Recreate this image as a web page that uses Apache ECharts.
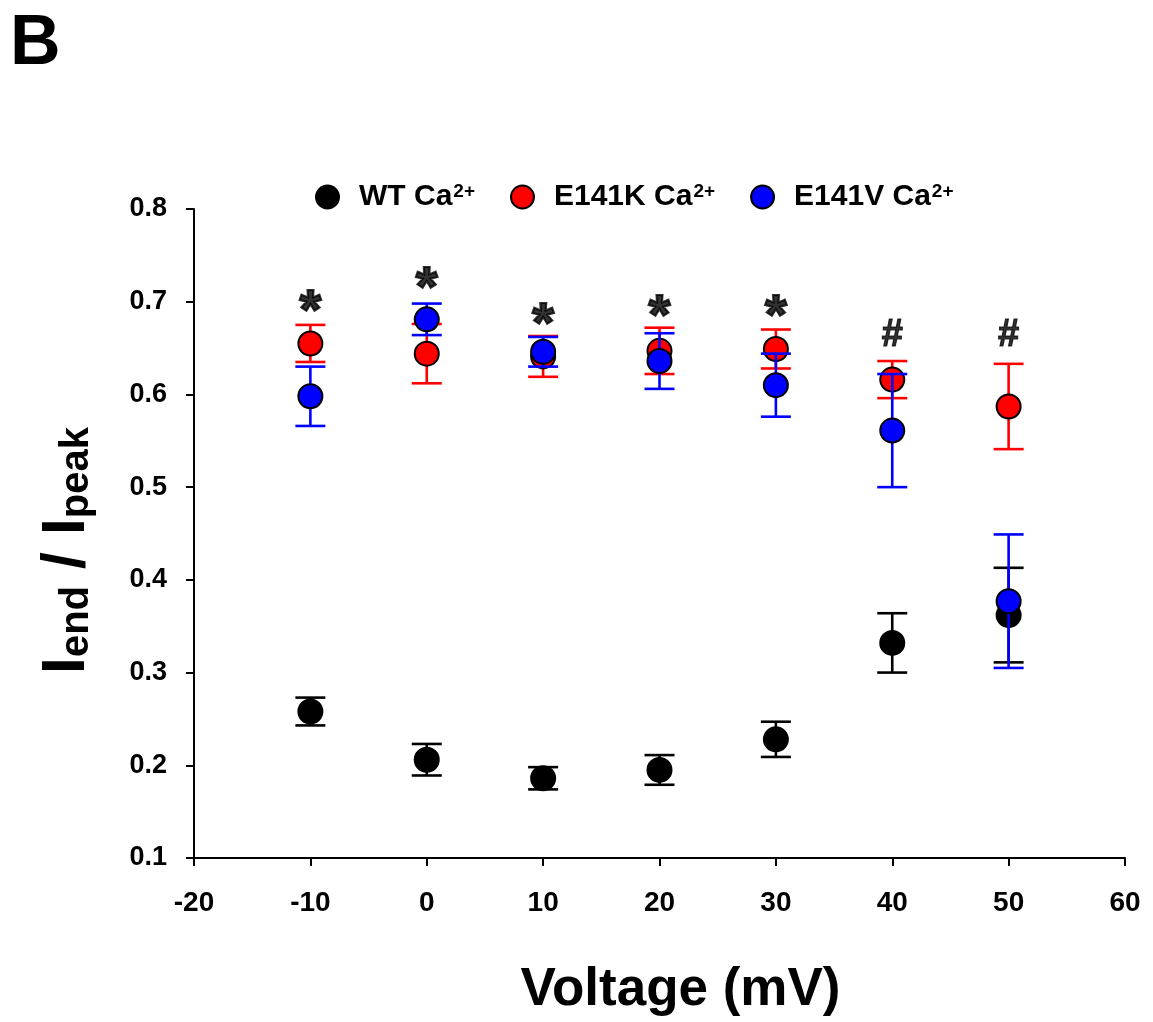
<!DOCTYPE html>
<html>
<head>
<meta charset="utf-8">
<script src="https://cdn.jsdelivr.net/npm/echarts@6/dist/echarts.min.js"></script>
<style>
  html, body { margin: 0; padding: 0; background: #fff; }
  #chart { width: 1153px; height: 1022px; }
</style>
</head>
<body>
<div id="chart"></div>
<script>
// Test potentials (mV)
const voltages = [-10, 0, 10, 20, 30, 40, 50];

// I_end / I_peak, mean and SEM per construct
const wtMean = [0.258, 0.206, 0.186, 0.195, 0.228, 0.332, 0.362];
const wtSem = [0.015, 0.017, 0.012, 0.016, 0.019, 0.032, 0.051];
const e141kMean = [0.655, 0.644, 0.641, 0.647, 0.649, 0.616, 0.587];
const e141kSem = [0.020, 0.032, 0.022, 0.025, 0.021, 0.020, 0.046];
const e141vMean = [0.598, 0.681, 0.646, 0.636, 0.610, 0.561, 0.377];
const e141vSem = [0.032, 0.017, 0.016, 0.030, 0.034, 0.061, 0.072];

// Significance marks above each potential
const sigMarks = ['*', '*', '*', '*', '*', '#', '#'];
const sigLevel = [0.700, 0.725, 0.686, 0.695, 0.695, 0.664, 0.664];

const FONT = 'Liberation Sans, Arial, sans-serif';

const groups = [
  { name: 'WT', color: '#000000', mean: wtMean, sem: wtSem },
  { name: 'E141K', color: '#ff0000', mean: e141kMean, sem: e141kSem },
  { name: 'E141V', color: '#0000ff', mean: e141vMean, sem: e141vSem }
];

function errorBarSeries(g, z) {
  return {
    type: 'custom',
    name: g.name + '_err',
    z: z,
    silent: true,
    data: voltages.map((v, i) => [v, g.mean[i], g.sem[i]]),
    renderItem: function (params, api) {
      const x = api.value(0), m = api.value(1), s = api.value(2);
      const top = api.coord([x, m + s]);
      const bot = api.coord([x, m - s]);
      const hw = 15;
      const style = { stroke: g.color, lineWidth: 2.6 };
      return {
        type: 'group',
        children: [
          { type: 'line', shape: { x1: top[0], y1: top[1], x2: bot[0], y2: bot[1] }, style: style },
          { type: 'line', shape: { x1: top[0] - hw, y1: top[1], x2: top[0] + hw, y2: top[1] }, style: style },
          { type: 'line', shape: { x1: bot[0] - hw, y1: bot[1], x2: bot[0] + hw, y2: bot[1] }, style: style }
        ]
      };
    }
  };
}

function pointSeries(g, z) {
  return {
    type: 'scatter',
    name: g.name,
    z: z,
    symbol: 'circle',
    symbolSize: 24,
    itemStyle: { color: g.color, borderColor: '#000', borderWidth: 2, opacity: 1 },
    data: voltages.map((v, i) => [v, g.mean[i]])
  };
}

const series = [];
groups.forEach((g, k) => {
  series.push(errorBarSeries(g, 2 + k * 2));
  series.push(pointSeries(g, 3 + k * 2));
});

// significance symbols
series.push({
  type: 'scatter',
  name: 'sig',
  z: 20,
  symbolSize: 0,
  silent: true,
  itemStyle: { color: '#000' },
  data: voltages.map((v, i) => ({ value: [v, sigLevel[i]], mark: sigMarks[i] })),
  label: {
    show: true,
    position: 'inside',
    textBorderWidth: 0,
    formatter: p => p.data.mark === '*' ? '{a|*}' : '{h|#}',
    rich: {
      a: { fontFamily: FONT, fontWeight: 'bold', fontSize: 56, color: '#000', textBorderColor: '#000', textBorderWidth: 2.2, padding: [22, 0, 0, 0] },
      h: { fontFamily: FONT, fontWeight: 'bold', fontSize: 38, color: '#000', textBorderColor: '#000', textBorderWidth: 1.2 }
    }
  }
});

const chart = echarts.init(document.getElementById('chart'), null, { renderer: 'canvas' });

chart.setOption({
  animation: false,
  backgroundColor: '#fff',
  title: {
    text: 'B',
    left: 5,
    top: 5,
    textStyle: { fontFamily: FONT, fontWeight: 'bold', fontSize: 70, color: '#000' }
  },
  legend: {
    data: ['WT', 'E141K', 'E141V'],
    top: 177,
    left: 310,
    itemWidth: 23,
    itemHeight: 23,
    itemGap: 35,
    icon: 'circle',
    formatter: name => '{t|' + name + ' Ca}{s|2+}',
    textStyle: {
      padding: [0, 0, 0, 15],
      rich: {
        t: { fontFamily: FONT, fontWeight: 'bold', fontSize: 30, color: '#000', lineHeight: 30 },
        s: { fontFamily: FONT, fontWeight: 'bold', fontSize: 19, color: '#000', verticalAlign: 'top', lineHeight: 30, padding: [0, 0, 12, 1] }
      }
    }
  },
  grid: { left: 194, right: 28, top: 209, bottom: 163, containLabel: false },
  xAxis: {
    type: 'value',
    min: -20,
    max: 60,
    interval: 10,
    splitLine: { show: false },
    axisLine: { onZero: false, lineStyle: { color: '#000', width: 2 } },
    axisTick: { length: 8, lineStyle: { color: '#000', width: 2 } },
    axisLabel: { color: '#000', fontFamily: FONT, fontWeight: 'bold', fontSize: 28, margin: 31 },
    name: 'Voltage (mV)',
    nameLocation: 'middle',
    nameGap: 106,
    nameTextStyle: { color: '#000', fontFamily: FONT, fontWeight: 'bold', fontSize: 53, padding: [0, 0, 0, 42] }
  },
  yAxis: {
    type: 'value',
    min: 0.1,
    max: 0.8,
    interval: 0.1,
    splitLine: { show: false },
    axisLine: { onZero: false, lineStyle: { color: '#000', width: 2 } },
    axisTick: { length: 8, lineStyle: { color: '#000', width: 2 } },
    axisLabel: { color: '#000', fontFamily: FONT, fontWeight: 'bold', fontSize: 27, margin: 27, formatter: v => v.toFixed(1) },
    name: '{m|I}{s|end}{m| / I}{s|peak}',
    nameLocation: 'middle',
    nameRotate: 90,
    nameGap: 97,
    nameTextStyle: {
      padding: [0, 34, 0, 0],
      rich: {
        m: { fontFamily: FONT, fontWeight: 'bold', fontSize: 61, color: '#000', lineHeight: 60, verticalAlign: 'top' },
        s: { fontFamily: FONT, fontWeight: 'bold', fontSize: 40, color: '#000', lineHeight: 40, verticalAlign: 'bottom', padding: [30, 0, 0, 0] }
      }
    }
  },
  series: series
});
</script>
</body>
</html>
